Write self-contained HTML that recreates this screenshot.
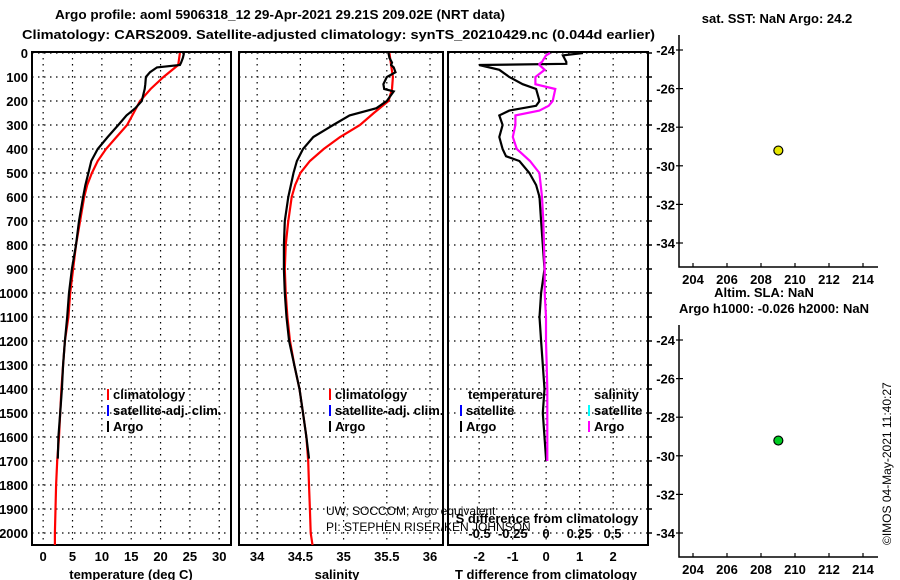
<!DOCTYPE html>
<html><head><meta charset="utf-8">
<style>
html,body{margin:0;padding:0;background:#fff;}
svg{display:block;font-family:"Liberation Sans",sans-serif;}
.b{font-weight:bold;font-size:13px;}
</style></head>
<body>
<svg id="chart" width="900" height="580" viewBox="0 0 900 580" xmlns="http://www.w3.org/2000/svg">
<text class="b" x="55" y="19" font-size="15" textLength="450" lengthAdjust="spacingAndGlyphs">Argo profile: aoml 5906318_12 29-Apr-2021 29.21S 209.02E (NRT data)</text>
<text class="b" x="22" y="39" font-size="15" textLength="633" lengthAdjust="spacingAndGlyphs">Climatology: CARS2009. Satellite-adjusted climatology: synTS_20210429.nc (0.044d earlier)</text>
<text class="b" x="777" y="23" text-anchor="middle">sat. SST: NaN Argo: 24.2</text>
<text class="b" x="764" y="297" text-anchor="middle" font-size="12">Altim. SLA: NaN</text>
<text class="b" x="774" y="313" text-anchor="middle" font-size="12">Argo h1000: -0.026 h2000: NaN</text>
<text x="891" y="545" font-size="12" transform="rotate(-90 891 545)">©IMOS 04-May-2021 11:40:27</text>
<text x="326" y="515" font-size="12">UW, SOCCOM, Argo equivalent</text>
<text x="326" y="531" font-size="12">PI: STEPHEN RISER/KEN JOHNSON</text>
<g id="g"></g>
</svg>
<script>
// ---- data ----
const depthTicks=[0,100,200,300,400,500,600,700,800,900,1000,1100,1200,1300,1400,1500,1600,1700,1800,1900,2000];
const tempTicks=[0,5,10,15,20,25,30];
const salTicks=[34,34.5,35,35.5,36];
const salTickLabels=["34","34.5","35","35.5","36"];
const tdiffTicks=[-2,-1,0,1,2];
const sdiffTicks=[-0.5,-0.25,0,0.25,0.5];
const sdiffTickLabels=["-0.5","-0.25","0","0.25","0.5"];
const lonTicks=[204,206,208,210,212,214];
const latTicks=[-24,-26,-28,-30,-32,-34];

const climDepth=[0,50,100,150,200,250,300,350,400,450,500,550,600,700,800,900,1000,1100,1200,1300,1400,1500,1600,1700,1800,1900,2000,2050];
const climTemp=[23.3,23.0,20.5,18.3,16.5,15.4,14.3,12.5,10.7,9.3,8.3,7.5,7.0,6.3,5.6,5.1,4.6,4.3,3.7,3.4,3.1,2.9,2.7,2.4,2.2,2.1,2.0,2.0];
const climSal=[35.53,35.55,35.57,35.56,35.52,35.35,35.19,34.96,34.77,34.61,34.50,34.44,34.40,34.36,34.33,34.32,34.33,34.35,34.38,34.43,34.49,34.53,34.57,34.59,34.60,34.61,34.62,34.64];

const argoDepth=[0,20,40,50,60,80,100,130,150,160,200,230,260,300,350,400,450,500,550,600,700,800,900,1000,1100,1200,1300,1400,1500,1600,1690];
const argoTemp=[24.0,23.8,23.5,23.3,19.4,18.2,17.5,17.4,17.3,17.2,16.8,15.7,14.2,12.8,11.0,9.3,8.2,7.7,7.2,6.8,6.1,5.6,4.9,4.4,4.1,3.7,3.4,3.2,2.9,2.6,2.5];
const argoSal=[35.52,35.53,35.56,35.55,35.58,35.6,35.5,35.46,35.47,35.58,35.5,35.38,35.07,34.88,34.65,34.53,34.46,34.42,34.39,34.36,34.32,34.31,34.31,34.32,34.34,34.37,34.43,34.49,34.53,34.57,34.6];

const diffDepth=[0,10,37,45,50,70,100,130,150,200,220,240,260,300,350,400,430,450,500,550,600,700,800,900,1000,1100,1200,1300,1400,1500,1600,1700];
const tDiff=[1.1,0.5,0.6,0.6,-2.0,-1.4,-1.1,-0.7,-0.3,-0.2,-0.3,-1.1,-1.4,-1.3,-1.4,-1.3,-1.2,-0.8,-0.5,-0.3,-0.2,-0.15,-0.1,-0.05,-0.15,-0.2,-0.15,-0.1,-0.05,-0.1,-0.05,0.0];
const sDiff=[0.03,0.0,-0.03,-0.05,-0.05,-0.01,-0.08,-0.08,0.07,0.05,0.02,-0.05,-0.23,-0.23,-0.25,-0.22,-0.16,-0.12,-0.05,-0.04,-0.03,-0.02,-0.015,-0.01,-0.01,0.0,0.0,0.005,0.01,0.01,0.01,0.01];

const floatLon=[209.02];
const floatLat=[-29.21];

// ---- drawing ----
const NS="http://www.w3.org/2000/svg";
const G=document.getElementById('g');
function el(tag,attrs,parent){const e=document.createElementNS(NS,tag);for(const k in attrs)e.setAttribute(k,attrs[k]);(parent||G).appendChild(e);return e;}
function lin(d0,d1,r0,r1){return v=>r0+(v-d0)*(r1-r0)/(d1-d0);}
const yD=lin(0,2050,53,545);
const P1={x0:32,x1:231},P2={x0:239,x1:443},P3={x0:448,x1:648};
const xT=lin(-1.9,32,P1.x0,P1.x1);
const xS=lin(33.79,36.15,P2.x0,P2.x1);
const xTd=lin(-2.93,3.04,P3.x0,P3.x1);
const xSd=lin(-0.737,0.767,P3.x0,P3.x1);

function grid(P,xs,xf){
  depthTicks.forEach(d=>{const l=el('line',{x1:P.x0,x2:P.x1,y1:yD(d),y2:yD(d),stroke:'#000','stroke-width':1.2,'stroke-dasharray':'1.5 4.5'});
    });
  xs.forEach(v=>{const l=el('line',{x1:xf(v),x2:xf(v),y1:52,y2:545,stroke:'#000','stroke-width':1.2,'stroke-dasharray':'1.5 4.5'});
    });
  const r=el('rect',{x:P.x0,y:52,width:P.x1-P.x0,height:493,fill:'none',stroke:'#000','stroke-width':2});
  
}
function line(xs,ds,xf,color,name){
  const pts=xs.map((v,i)=>xf(v).toFixed(1)+','+yD(ds[i]).toFixed(1)).join(' ');
  const p=el('polyline',{points:pts,fill:'none',stroke:color,'stroke-width':2.2,'stroke-linejoin':'miter'});
  
}
function txt(x,y,s,attrs,name){const t=el('text',Object.assign({x:x,y:y,class:'b'},attrs||{}));t.textContent=s;
  return t;}

// panel 1
grid(P1,tempTicks,xT);
depthTicks.forEach(d=>txt(28,yD(d)+5,String(d),{'text-anchor':'end'},'depth-tick-label'));
tempTicks.forEach(v=>txt(xT(v),561,String(v),{'text-anchor':'middle'},'temp-tick-label'));
txt(131,579,'temperature (deg C)',{'text-anchor':'middle'},'temp-axis-title');
line(climTemp,climDepth,xT,'#f00','temp-climatology-line');
line(argoTemp,argoDepth,xT,'#000','temp-argo-line');
// panel 2
grid(P2,salTicks,xS);
salTicks.forEach((v,i)=>txt(xS(v),561,salTickLabels[i],{'text-anchor':'middle'},'sal-tick-label'));
txt(337,579,'salinity',{'text-anchor':'middle'},'sal-axis-title');
line(climSal,climDepth,xS,'#f00','sal-climatology-line');
line(argoSal,argoDepth,xS,'#000','sal-argo-line');
// panel 3
grid(P3,tdiffTicks,xTd);
depthTicks.forEach(d=>{const l=el('line',{x1:P3.x1,x2:P3.x1+4,y1:yD(d),y2:yD(d),stroke:'#000','stroke-width':1.5});
  });
tdiffTicks.forEach(v=>txt(xTd(v),561,String(v),{'text-anchor':'middle'},'tdiff-tick-label'));
txt(546,579,'T difference from climatology',{'text-anchor':'middle'},'tdiff-axis-title');
sdiffTicks.forEach((v,i)=>txt(xSd(v),538,sdiffTickLabels[i],{'text-anchor':'middle'},'sdiff-tick-label'));
txt(547,523,'S difference from climatology',{'text-anchor':'middle'},'sdiff-axis-title');
line(tDiff,diffDepth,xTd,'#000','tdiff-argo-line');
line(sDiff,diffDepth,xSd,'#f0f','sdiff-argo-line');

// legends
function legItem(x,y,color,label,name){
  const m=el('rect',{x:x,y:y-10,width:2,height:11,fill:color});
  
  txt(x+6,y,label,{},name+'-label');
}
[107,329].forEach(x=>{
  legItem(x,399,'#f00','climatology','legend-climatology');
  legItem(x,415,'#00f','satellite-adj. clim.','legend-satellite-adj');
  legItem(x,431,'#000','Argo','legend-argo');
});
txt(468,399,'temperature',{},'legend-temperature-heading');
legItem(460,415,'#00f','satellite','legend-t-satellite');
legItem(460,431,'#000','Argo','legend-t-argo');
txt(594,399,'salinity',{},'legend-salinity-heading');
legItem(588,415,'#0ff','satellite','legend-s-satellite');
legItem(588,431,'#f0f','Argo','legend-s-argo');

// maps
function map(top,bottom,lat24y,color,name){
  const xL=lin(204,214,693,863);
  const yL=lin(-24,-34,lat24y,lat24y+193);
  const ax=el('polyline',{points:`679,${top} 679,${bottom} 878,${bottom}`,fill:'none',stroke:'#000','stroke-width':1.5});
  
  latTicks.forEach(v=>{const l=el('line',{x1:676,x2:683,y1:yL(v),y2:yL(v),stroke:'#000','stroke-width':1.2});
    
    txt(675,yL(v)+5,String(v),{'text-anchor':'end'},'lat-tick-label');});
  lonTicks.forEach(v=>{const l=el('line',{x1:xL(v),x2:xL(v),y1:bottom-4,y2:bottom,stroke:'#000','stroke-width':1.2});
    
    txt(xL(v),bottom+17,String(v),{'text-anchor':'middle'},'lon-tick-label');});
  floatLon.forEach((lo,i)=>{const c=el('circle',{cx:xL(lo),cy:yL(floatLat[i]),r:4.5,fill:color,stroke:'#000','stroke-width':1.2});
    });
}
map(35,267,50,'#e6e600','sst-map');
map(325,557,340,'#00cc22','sla-map');
</script>
</body></html>
